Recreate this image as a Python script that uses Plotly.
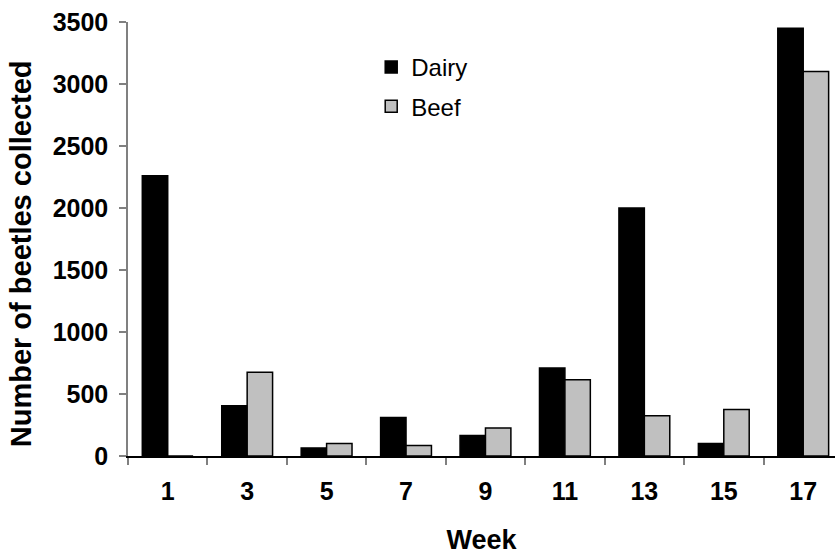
import plotly.graph_objects as go

weeks = ["1", "3", "5", "7", "9", "11", "13", "15", "17"]
dairy = [2260, 405, 65, 310, 165, 710, 2000, 100, 3450]
beef = [0, 675, 100, 85, 225, 615, 325, 375, 3100]
y_ticks = [0, 500, 1000, 1500, 2000, 2500, 3000, 3500]

FONT = "Liberation Sans"

fig = go.Figure()
fig.add_trace(go.Bar(name="Dairy", x=weeks, y=dairy, legendgroup="d",
                     marker=dict(color="#000000", line=dict(color="#000000", width=1.5))))
fig.add_trace(go.Bar(name="Beef", x=weeks, y=beef, legendgroup="b",
                     marker=dict(color="#C0C0C0", line=dict(color="#000000", width=1.5))))

fig.update_layout(
    width=835, height=555,
    margin=dict(l=128, r=0, t=22, b=99),
    paper_bgcolor="white", plot_bgcolor="white",
    barmode="group", bargap=0.36, bargroupgap=0,
    font=dict(family=FONT, color="black"),
    showlegend=True,
    legend=dict(x=0.344, y=0.947, xanchor="left", yanchor="top",
                font=dict(family=FONT, size=24, color="black"),
                bgcolor="rgba(0,0,0,0)", tracegroupgap=5, traceorder="grouped",
                itemwidth=30),
    xaxis=dict(type="category", range=[-0.5, 8.4],
               showline=True, linecolor="#000000", linewidth=1.5,
               ticks="outside", tickson="boundaries", ticklen=7, tickcolor="#808080",
               tickwidth=1.5, showgrid=False, zeroline=False,
               tickfont=dict(family=FONT, size=25, color="black", weight="bold"),
               ticklabelstandoff=12,
               title=dict(text="<b>Week</b>", font=dict(family=FONT, size=27, color="black"),
                          standoff=27),
               automargin=False),
    yaxis=dict(range=[0, 3500], tickvals=y_ticks,
               showline=True, linecolor="#808080", linewidth=1.5,
               ticks="outside", ticklen=7, tickcolor="#808080", tickwidth=1.5,
               showgrid=False, zeroline=False,
               tickfont=dict(family=FONT, size=25, color="black", weight="bold"),
               ticklabelstandoff=6,
               automargin=False),
    annotations=[dict(text="<b>Number of beetles collected</b>", textangle=-90,
                      xref="paper", yref="paper", x=-0.151, y=0.4654,
                      xanchor="center", yanchor="middle", showarrow=False,
                      font=dict(family=FONT, size=29, color="black"))],
)

fig.write_html("out.html", config={"displayModeBar": False},
               post_script="document.body.style.margin='0';")
